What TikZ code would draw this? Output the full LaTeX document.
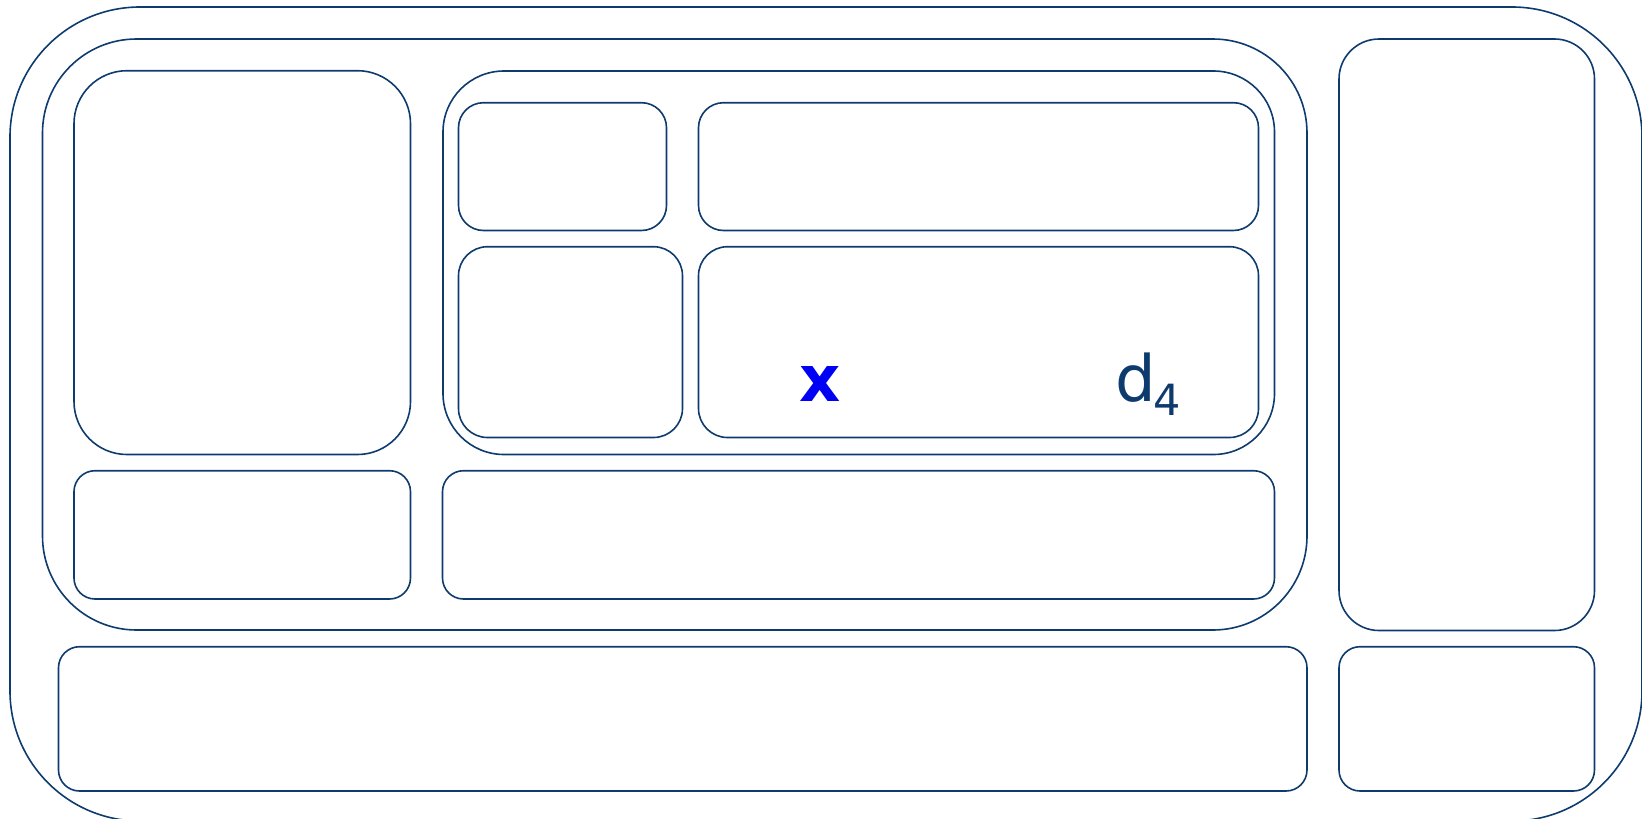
\documentclass[tikz,border=0pt]{standalone}
\usepackage{fontspec}
\setmainfont{DejaVu Sans}
\definecolor{frameblue}{HTML}{0D3B6E}
\definecolor{markblue}{HTML}{0000F5}
\begin{document}
\begin{tikzpicture}[x=1pt,y=-1pt]
        \tikzset{
            panel/.style={
                draw=frameblue,
                line width=1.6pt
            },
            panelbig/.style={panel, rounded corners=130pt},
            panelwide/.style={panel, rounded corners=94pt},
            paneltall/.style={panel, rounded corners=53pt},
            panelmid/.style={panel, rounded corners=61pt},
            panelcell/.style={panel, rounded corners=29pt},
            panelslim/.style={panel, rounded corners=40pt},
            panelbar/.style={panel, rounded corners=21pt},
            marklabel/.style={
                inner sep=0pt,
                anchor=base,
                font=\fontsize{64}{70}\selectfont
            }
        }
        \useasboundingbox (0,0) rectangle (1642,819);

        \draw[panelbig] (10,7) rectangle (1642,821);
        \draw[panelwide] (42.5,39) rectangle (1307,630);
        \draw[panelslim] (1339,39) rectangle (1594.5,630.5);
        \draw[panelbar] (58.5,646.7) rectangle (1307,791);
        \draw[panelbar] (1339,646.7) rectangle (1594.5,791);

        \draw[paneltall] (74,70.7) rectangle (410.5,454.5);
        \draw[panelmid] (443,71) rectangle (1274.5,454.5);
        \draw[panelbar] (74,470.7) rectangle (410.5,599);
        \draw[panelbar] (442.5,470.7) rectangle (1274.5,599);

        \draw[panelcell, rounded corners=25pt] (458.5,102.7) rectangle (666.5,230.5);
        \draw[panelcell, rounded corners=25pt] (698.5,102.7) rectangle (1258.5,230.5);
        \draw[panelcell] (458.5,246.7) rectangle (682.5,437.5);
        \draw[panelcell] (698.5,246.7) rectangle (1258.5,437.5);

        \node[marklabel, text=markblue] (xmark) at (820,401) {\bfseries x};
        \node[marklabel, anchor=base west, text=frameblue] (dfour) at (1115.5,401)
            {d\kern-3pt\raisebox{-14pt}{\fontsize{43}{50}\selectfont 4}};
    \end{tikzpicture}
\end{document}
